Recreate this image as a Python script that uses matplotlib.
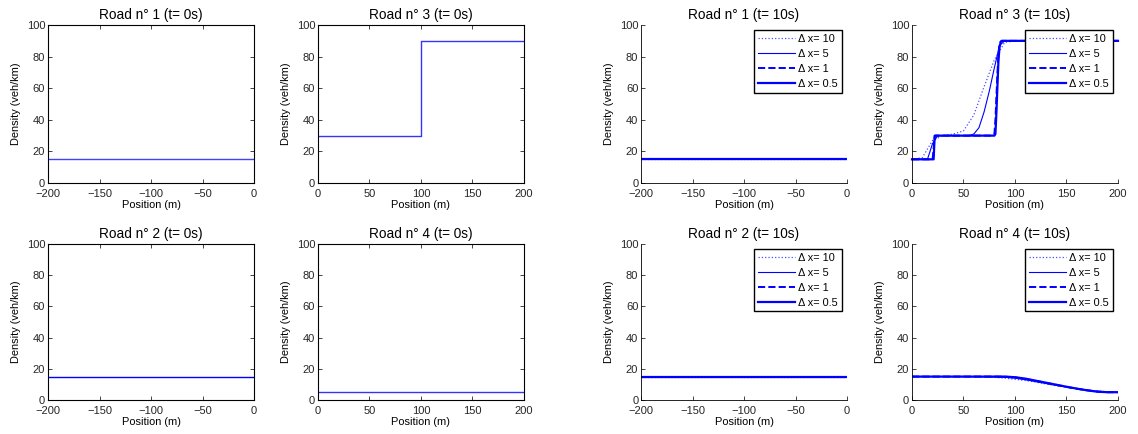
import matplotlib.pyplot as plt
import numpy as np

plt.rcParams['font.family'] = ['Liberation Sans', 'DejaVu Sans']

BLUE = '#0000ff'

# initial state (t = 0s)
r1_x0 = [-200, 0]
r1_y0 = [15, 15]
r2_x0 = [-200, 0]
r2_y0 = [15, 15]
r3_x0 = [0, 100, 100, 200]
r3_y0 = [30, 30, 90, 90]
r4_x0 = [0, 200]
r4_y0 = [5, 5]

# t = 10s, roads 1 and 2 stay flat for every dx
r12_x = [-200, 0]
r12_y = [15, 15]

dx_labels = ['\u0394 x= 10', '\u0394 x= 5', '\u0394 x= 1', '\u0394 x= 0.5']

# road 3, t = 10s
r3_x10 = [0, 10, 20, 30, 40, 50, 60, 70, 80, 90, 100, 200]
r3_y10 = [15, 16, 27, 30, 31, 33, 43, 61, 78, 89, 90, 90]
r3_x5 = [0, 15, 20, 25, 30, 55, 60, 65, 70, 75, 80, 85, 90, 200]
r3_y5 = [15, 15, 25, 30, 30, 30, 31, 35, 45, 58, 73, 87, 90, 90]
r3_x1 = [0, 20, 21, 22, 23, 78, 80, 81, 82, 83, 84, 85, 86, 88, 200]
r3_y1 = [15, 15, 22, 29, 30, 30, 31, 40, 55, 70, 82, 88, 89.5, 90, 90]
r3_x05 = [0, 21, 21.5, 22, 80, 81, 82, 83, 84, 85, 86, 87, 200]
r3_y05 = [15, 15, 22, 30, 30, 31, 45, 62, 78, 86, 89, 90, 90]

# road 4, t = 10s
r4_x10 = [0, 50, 80, 90, 100, 110, 120, 130, 140, 150, 160, 170, 180, 190, 200]
r4_y10 = [15, 15, 14.5, 14, 13.2, 12.5, 11.5, 10.3, 9.2, 8.2, 7.3, 6.5, 5.8, 5.3, 5]
r4_x5 = [0, 60, 80, 90, 100, 110, 120, 130, 140, 150, 160, 170, 180, 190, 200]
r4_y5 = [15, 15, 14.8, 14.5, 14, 13, 11.8, 10.6, 9.4, 8.3, 7.2, 6.3, 5.6, 5.1, 5]
r4_x1 = [0, 80, 90, 100, 110, 120, 130, 140, 150, 160, 170, 180, 190, 200]
r4_y1 = [15, 15, 14.9, 14.5, 13.5, 12.3, 11, 9.7, 8.4, 7.2, 6.2, 5.4, 5, 5]
r4_x05 = [0, 80, 90, 100, 110, 120, 130, 140, 150, 160, 170, 180, 190, 200]
r4_y05 = [15, 15, 15, 14.6, 13.7, 12.4, 11.1, 9.8, 8.5, 7.3, 6.2, 5.3, 5, 5]

styles = [dict(ls=':', lw=0.9, alpha=0.7),
          dict(ls='-', lw=0.8),
          dict(ls='--', lw=1.4),
          dict(ls='-', lw=1.6)]

fig = plt.figure(figsize=(11.38, 4.34), dpi=100)

lefts = [0.0422, 0.2794, 0.5633, 0.8014]
w = 0.181
tops = [(0.5783, 0.364), (0.0783, 0.360)]

TITLE_FS = 9.8


def style_ax(ax, boxed):
    ax.set_ylim(0, 100)
    ax.set_yticks([0, 20, 40, 60, 80, 100])
    ax.tick_params(direction='in', labelsize=8, length=3, width=0.6, pad=2,
                   top=boxed, right=boxed, colors='#262626')
    ax.tick_params(axis='x', pad=4)
    ax.set_ylabel('Density (veh/km)', fontsize=7.9, labelpad=4)
    ax.set_xlabel('Position (m)', fontsize=7.9, labelpad=1)
    for s in ax.spines.values():
        s.set_linewidth(0.8 if boxed else 0.6)
        s.set_color('black')
    if not boxed:
        ax.spines['top'].set_visible(False)
        ax.spines['right'].set_visible(False)


def add_ax(col, row):
    b, h = tops[row]
    return fig.add_axes([lefts[col], b, w, h])


# t = 0 panels
ax = add_ax(0, 0)
ax.plot(r1_x0, r1_y0, color=BLUE, lw=1.0, alpha=0.75)
ax.set_xlim(-200, 0)
ax.set_title('Road n\u00b0 1 (t= 0s)', fontsize=TITLE_FS, pad=4)
style_ax(ax, True)

ax = add_ax(1, 0)
ax.plot(r3_x0, r3_y0, color=BLUE, lw=1.0, alpha=0.8)
ax.set_xlim(0, 200)
ax.set_title('Road n\u00b0 3 (t= 0s)', fontsize=TITLE_FS, pad=4)
style_ax(ax, True)

ax = add_ax(0, 1)
ax.plot(r2_x0, r2_y0, color=BLUE, lw=1.0)
ax.set_xlim(-200, 0)
ax.set_title('Road n\u00b0 2 (t= 0s)', fontsize=TITLE_FS, pad=4)
style_ax(ax, True)

ax = add_ax(1, 1)
ax.plot(r4_x0, r4_y0, color=BLUE, lw=1.0, alpha=0.8)
ax.set_xlim(0, 200)
ax.set_title('Road n\u00b0 4 (t= 0s)', fontsize=TITLE_FS, pad=4)
style_ax(ax, True)


def legend(ax):
    leg = ax.legend(loc='upper right', fontsize=7.8, handlelength=3.4,
                    fancybox=False, framealpha=1, edgecolor='black',
                    borderpad=0.35, labelspacing=0.45, handletextpad=0.3,
                    borderaxespad=0.5)
    leg.get_frame().set_linewidth(1.0)


# t = 10 panels
for row, name in [(0, 'Road n\u00b0 1 (t= 10s)'), (1, 'Road n\u00b0 2 (t= 10s)')]:
    ax = add_ax(2, row)
    for lab, st in zip(dx_labels, styles):
        ax.plot(r12_x, r12_y, color=BLUE, label=lab, **st)
    ax.set_xlim(-200, 0)
    ax.set_title(name, fontsize=TITLE_FS, pad=4)
    style_ax(ax, False)
    legend(ax)

ax = add_ax(3, 0)
for xs, ys, lab, st in zip([r3_x10, r3_x5, r3_x1, r3_x05],
                           [r3_y10, r3_y5, r3_y1, r3_y05], dx_labels, styles):
    ax.plot(xs, ys, color=BLUE, label=lab, clip_on=False, **st)
ax.set_xlim(0, 200)
ax.set_title('Road n\u00b0 3 (t= 10s)', fontsize=TITLE_FS, pad=4)
style_ax(ax, False)
legend(ax)

ax = add_ax(3, 1)
for xs, ys, lab, st in zip([r4_x10, r4_x5, r4_x1, r4_x05],
                           [r4_y10, r4_y5, r4_y1, r4_y05], dx_labels, styles):
    ax.plot(xs, ys, color=BLUE, label=lab, **st)
ax.set_xlim(0, 200)
ax.set_title('Road n\u00b0 4 (t= 10s)', fontsize=TITLE_FS, pad=4)
style_ax(ax, False)
legend(ax)

fig.savefig('out.png', dpi=100, facecolor='white')
